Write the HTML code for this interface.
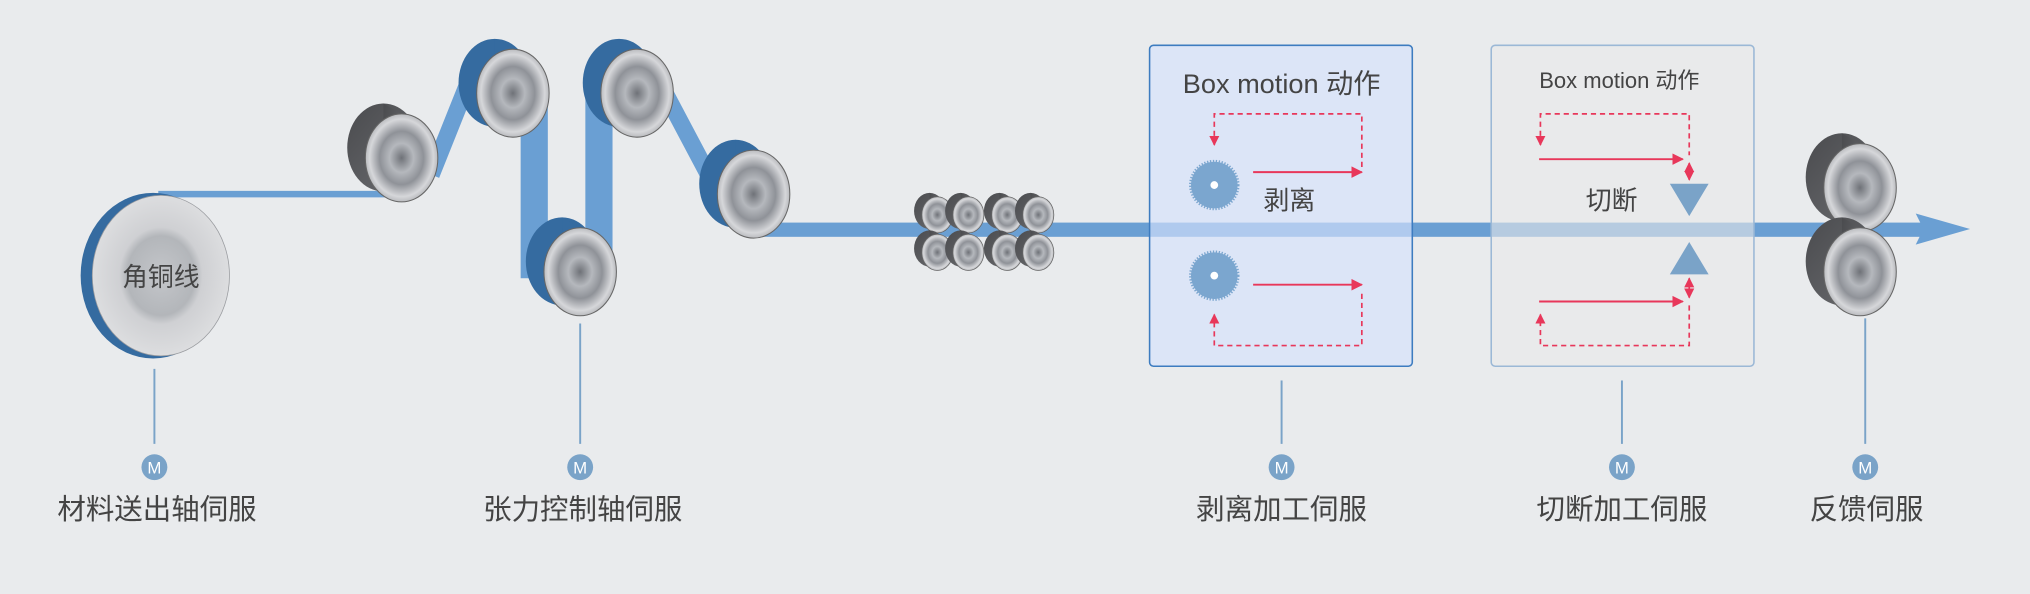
<!DOCTYPE html>
<html><head><meta charset="utf-8"><style>
html,body{margin:0;padding:0;background:#e9ebed;}
svg{display:block;}
text{font-family:"Liberation Sans","Noto Sans CJK SC",sans-serif;fill:#444;}
</style></head><body>
<svg width="2030" height="594" viewBox="0 0 1568 459" xmlns="http://www.w3.org/2000/svg">
<defs>
<radialGradient id="face" cx="50%" cy="50%" r="55%">
<stop offset="0" stop-color="#6f7278"/><stop offset="0.3" stop-color="#b5b8bd"/><stop offset="0.55" stop-color="#8f9298"/><stop offset="0.8" stop-color="#d6d7da"/><stop offset="1" stop-color="#a2a4a8"/>
</radialGradient>
<radialGradient id="spool" cx="50%" cy="50%" r="55%">
<stop offset="0" stop-color="#c4c6ca"/><stop offset="0.45" stop-color="#b3b6ba"/><stop offset="0.55" stop-color="#cfd0d3"/><stop offset="0.9" stop-color="#dcdddf"/><stop offset="1" stop-color="#b9bbbe"/>
</radialGradient>
<linearGradient id="body" x1="0" y1="0" x2="1" y2="1">
<stop offset="0" stop-color="#4a4b4e"/><stop offset="1" stop-color="#6b6c70"/>
</linearGradient>
<marker id="ar" viewBox="0 0 10 10" refX="9" refY="5" markerWidth="6" markerHeight="6" orient="auto-start-reverse"><path d="M0,0L10,5L0,10z" fill="#e8375a"/></marker>
<g id="roll">
<ellipse cx="-14" cy="-8" rx="28" ry="34" fill="url(#body)"/>
<polygon points="-14,-42 0,-34 0,34 -14,26" fill="url(#body)"/>
<ellipse cx="0" cy="0" rx="28" ry="34" fill="url(#face)" stroke="#666" stroke-width="0.8"/>
</g>
<g id="broll">
<ellipse cx="-14" cy="-8" rx="28" ry="34" fill="#356ba0"/>
<polygon points="-14,-42 0,-34 0,34 -14,26" fill="#356ba0"/>
<ellipse cx="0" cy="0" rx="28" ry="34" fill="url(#face)" stroke="#666" stroke-width="0.8"/>
</g>
<g id="sroll">
<ellipse cx="-6" cy="-3" rx="12" ry="14" fill="url(#body)"/>
<polygon points="-6,-17 0,-14 0,14 -6,11" fill="url(#body)"/>
<ellipse cx="0" cy="0" rx="12" ry="14" fill="url(#face)" stroke="#666" stroke-width="0.6"/>
</g>
</defs>
<rect width="1568" height="459" fill="#e9ebed"/>

<!-- belts -->
<line x1="122" y1="150" x2="305" y2="150" stroke="#6a9fd3" stroke-width="5"/>
<line x1="333" y1="135" x2="365" y2="55" stroke="#6a9fd3" stroke-width="13"/>
<rect x="402" y="75" width="21" height="140" fill="#6a9fd3"/>
<rect x="452" y="60" width="21" height="150" fill="#6a9fd3"/>
<line x1="510" y1="65" x2="555" y2="150" stroke="#6a9fd3" stroke-width="13"/>
<rect x="585" y="172" width="905" height="11" fill="#6a9fd3"/>
<polygon points="1480,165 1522,177 1480,189 1486,177" fill="#6a9fd3"/>

<!-- spool -->
<ellipse cx="118" cy="213" rx="56" ry="64" fill="#356ba0"/>
<ellipse cx="124" cy="213" rx="53" ry="62" fill="url(#spool)" stroke="#9a9ca0" stroke-width="0.6"/>
<text x="124" y="221" font-size="20" text-anchor="middle">角铜线</text>

<!-- rollers -->
<use href="#roll" x="310" y="122"/>
<use href="#broll" x="396" y="72"/>
<use href="#broll" x="448" y="210"/>
<use href="#broll" x="492" y="72"/>
<use href="#broll" x="582" y="150"/>

<use href="#sroll" x="724" y="166"/><use href="#sroll" x="748" y="166"/>
<use href="#sroll" x="778" y="166"/><use href="#sroll" x="802" y="166"/>
<use href="#sroll" x="724" y="195"/><use href="#sroll" x="748" y="195"/>
<use href="#sroll" x="778" y="195"/><use href="#sroll" x="802" y="195"/>

<use href="#roll" x="1437" y="145"/>
<use href="#roll" x="1437" y="210"/>

<!-- box 1 -->
<rect x="888" y="35" width="203" height="248" rx="3" fill="rgba(214,226,252,0.65)" stroke="#3d7cc0" stroke-width="1.2"/>
<text x="990" y="72" font-size="21" text-anchor="middle">Box motion 动作</text>
<polyline points="938,112 938,88 1052,88 1052,130" fill="none" stroke="#e8375a" stroke-width="1.3" stroke-dasharray="4,3" marker-start="url(#ar)"/>
<line x1="968" y1="133" x2="1052" y2="133" stroke="#e8375a" stroke-width="1.5" marker-end="url(#ar)"/>
<circle cx="938" cy="143" r="18" fill="#7ba6cf" stroke="#7ba6cf" stroke-width="3" stroke-dasharray="1,1.2"/>
<circle cx="938" cy="143" r="3" fill="#fff"/>
<text x="996" y="162" font-size="20" text-anchor="middle">剥离</text>
<circle cx="938" cy="213" r="18" fill="#7ba6cf" stroke="#7ba6cf" stroke-width="3" stroke-dasharray="1,1.2"/>
<circle cx="938" cy="213" r="3" fill="#fff"/>
<line x1="968" y1="220" x2="1052" y2="220" stroke="#e8375a" stroke-width="1.5" marker-end="url(#ar)"/>
<polyline points="1052,227 1052,267 938,267 938,243" fill="none" stroke="#e8375a" stroke-width="1.3" stroke-dasharray="4,3" marker-end="url(#ar)"/>

<!-- box 2 -->
<rect x="1152" y="35" width="203" height="248" rx="3" fill="rgba(233,233,233,0.6)" stroke="#9bb8d6" stroke-width="1.2"/>
<text x="1251" y="68" font-size="17" text-anchor="middle">Box motion 动作</text>
<polyline points="1190,112 1190,88 1305,88 1305,120" fill="none" stroke="#e8375a" stroke-width="1.3" stroke-dasharray="4,3" marker-start="url(#ar)"/>
<line x1="1189" y1="123" x2="1300" y2="123" stroke="#e8375a" stroke-width="1.5" marker-end="url(#ar)"/>
<line x1="1305" y1="126" x2="1305" y2="139" stroke="#e8375a" stroke-width="1.3" marker-start="url(#ar)" marker-end="url(#ar)"/>
<polygon points="1290,142 1320,142 1305,167" fill="#7aa3c8"/>
<text x="1245" y="162" font-size="20" text-anchor="middle">切断</text>
<polygon points="1290,212 1320,212 1305,187" fill="#7aa3c8"/>
<line x1="1305" y1="215" x2="1305" y2="230" stroke="#e8375a" stroke-width="1.3" marker-start="url(#ar)" marker-end="url(#ar)"/>
<line x1="1189" y1="233" x2="1300" y2="233" stroke="#e8375a" stroke-width="1.5" marker-end="url(#ar)"/>
<polyline points="1305,236 1305,267 1190,267 1190,243" fill="none" stroke="#e8375a" stroke-width="1.3" stroke-dasharray="4,3" marker-end="url(#ar)"/>

<!-- motors -->
<g stroke="#7aa3c8" stroke-width="1.5">
<line x1="119" y1="285" x2="119" y2="343"/>
<line x1="448" y1="250" x2="448" y2="343"/>
<line x1="990" y1="294" x2="990" y2="343"/>
<line x1="1253" y1="294" x2="1253" y2="343"/>
<line x1="1441" y1="246" x2="1441" y2="343"/>
</g>
<g fill="#7aa3c8">
<circle cx="119" cy="361" r="10"/><circle cx="448" cy="361" r="10"/><circle cx="990" cy="361" r="10"/><circle cx="1253" cy="361" r="10"/><circle cx="1441" cy="361" r="10"/>
</g>
<g font-size="13" text-anchor="middle">
<text x="119" y="366" style="fill:#fff">M</text><text x="448" y="366" style="fill:#fff">M</text><text x="990" y="366" style="fill:#fff">M</text><text x="1253" y="366" style="fill:#fff">M</text><text x="1441" y="366" style="fill:#fff">M</text>
</g>
<g font-size="22" text-anchor="middle">
<text x="121" y="401">材料送出轴伺服</text>
<text x="450" y="401">张力控制轴伺服</text>
<text x="990" y="401">剥离加工伺服</text>
<text x="1253" y="401">切断加工伺服</text>
<text x="1442" y="401">反馈伺服</text>
</g>
</svg>
</body></html>
